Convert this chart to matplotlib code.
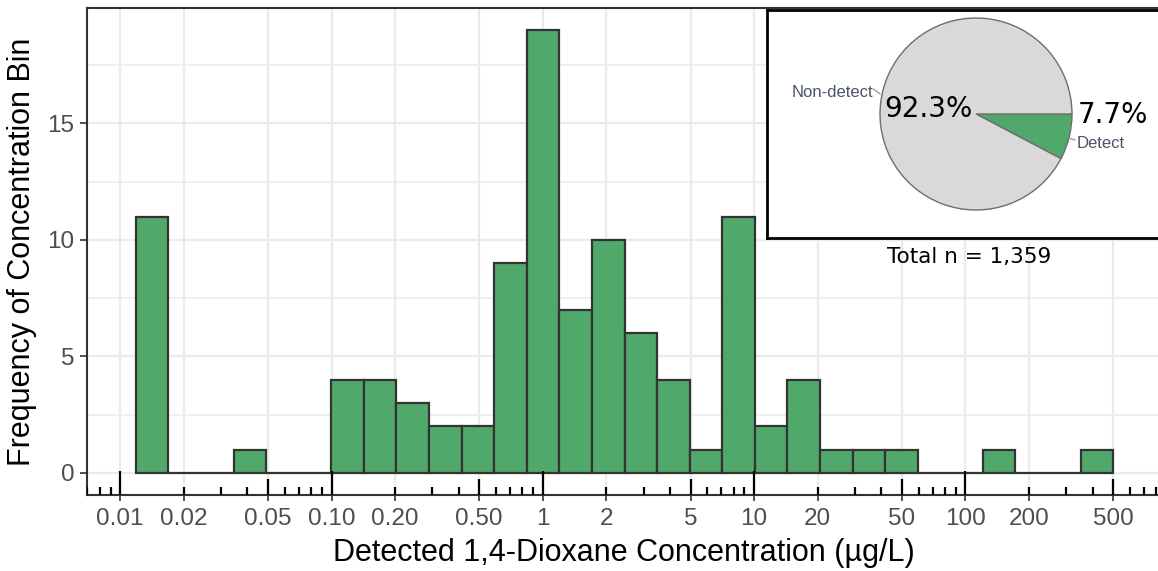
import numpy as np
import matplotlib
matplotlib.use('Agg')
import matplotlib.pyplot as plt
from matplotlib.ticker import FixedLocator, FixedFormatter, NullLocator

# Data
# counts of detected samples in each equal-width bin on the log10 scale
counts = [11, 0, 0, 1, 0, 0, 4, 4, 3, 2, 2, 9, 19, 7, 10, 6, 4, 1, 11, 2,
          4, 1, 1, 1, 0, 0, 1, 0, 0, 1]
log_lo, log_hi = -1.926, 2.699   # outer bin edges, log10(ug/L)

breaks = [0.01, 0.02, 0.05, 0.1, 0.2, 0.5, 1, 2, 5, 10, 20, 50, 100, 200, 500]
break_labels = ['0.01', '0.02', '0.05', '0.10', '0.20', '0.50', '1', '2', '5',
                '10', '20', '50', '100', '200', '500']
y_breaks = [0, 5, 10, 15]
y_minor = [2.5, 7.5, 12.5, 17.5]

pie_labels = ['Detect', 'Non-detect']
pie_pct = [7.7, 92.3]
total_n = 1359

green = '#50A86A'
grey_pie = '#D9D9D9'
W, H = 1158, 571

plt.rcParams['font.family'] = ['Liberation Sans', 'DejaVu Sans']

fig = plt.figure(figsize=(W / 100, H / 100), dpi=100)
ax_l, ax_r, ax_t, ax_b = 87, 1162, 8, 495
ax = fig.add_axes([ax_l / W, (H - ax_b) / H, (ax_r - ax_l) / W, (ax_b - ax_t) / H])

# histogram bars
edges = 10 ** np.linspace(log_lo, log_hi, len(counts) + 1)
ax.bar(edges[:-1], counts, width=np.diff(edges), align='edge', color=green,
       edgecolor='#333333', linewidth=1.6, zorder=3)

ax.set_xscale('log')
span = log_hi - log_lo
ax.set_ylim(-0.05 * max(counts), 1.05 * max(counts))

# axes ticks / grid
ax.xaxis.set_major_locator(FixedLocator(breaks))
ax.xaxis.set_major_formatter(FixedFormatter(break_labels))
ax.xaxis.set_minor_locator(NullLocator())
ax.yaxis.set_major_locator(FixedLocator(y_breaks))
ax.yaxis.set_minor_locator(FixedLocator(y_minor))
ax.tick_params(axis='x', which='major', direction='out', length=4.5, width=1.2,
               color='#333333', labelsize=17.5, labelcolor='#4D4D4D', pad=5)
ax.tick_params(axis='y', which='major', direction='out', length=5, width=1.2,
               color='#333333', labelsize=17.5, labelcolor='#4D4D4D', pad=4)
ax.tick_params(which='minor', length=0)
ax.set_axisbelow(True)
ax.grid(which='major', color='#EBEBEB', linewidth=1.6)
ax.grid(which='minor', axis='y', color='#EBEBEB', linewidth=1.1)
for s in ax.spines.values():
    s.set_color('#333333')
    s.set_linewidth(1.5)

# log ticks along the bottom of the panel
ax_h = ax_b - ax_t
trans = ax.get_xaxis_transform()
for k in range(-3, 4):
    for m in range(1, 10):
        v = m * 10.0 ** k
        L = 24 if m == 1 else (16 if m == 5 else 8)
        ax.vlines(v, 0, L / ax_h, transform=trans, color='black', linewidth=1.6,
                  zorder=4)
ax.set_xlim(10 ** (log_lo - 0.05 * span), 10 ** (log_hi + 0.05 * span))

fig.text(624 / W, 1 - 553 / H, 'Detected 1,4-Dioxane Concentration (µg/L)',
         ha='center', va='center', fontsize=22, color='black')
fig.text(22 / W, 1 - 252 / H, 'Frequency of Concentration Bin', rotation=90,
         ha='center', va='center', fontsize=22, color='black')

# inset box with pie
box = fig.add_axes([767 / W, (H - 238) / H, 420 / W, (238 - 10) / H])
box.set_xticks([])
box.set_yticks([])
box.set_facecolor('white')
for s in box.spines.values():
    s.set_color('black')
    s.set_linewidth(2)

cx, cy, R = 976, 114, 96
pr = 1.25 * R
ax_pie = fig.add_axes([(cx - pr) / W, (H - cy - pr) / H, 2 * pr / W, 2 * pr / H])
ax_pie.pie(pie_pct, colors=[green, grey_pie], startangle=0, counterclock=False,
           wedgeprops=dict(edgecolor='#6E6E6E', linewidth=1))
ax_pie.set_xlim(-1.25, 1.25)
ax_pie.set_ylim(-1.25, 1.25)
ax_pie.axis('off')

lab_col = '#4A5468'
ax_pie.text(-1.075, 0.177, pie_labels[1], ha='right', va='baseline',
            fontsize=12, color=lab_col)
ax_pie.plot([-1.07, -1.0], [0.26, 0.21], color='#8A8A8A', linewidth=0.8)
ax_pie.text(-0.96, -0.031, '%.1f%%' % pie_pct[1], ha='left', va='baseline',
            fontsize=20, family='DejaVu Sans', color='black')
ax_pie.text(1.06, -0.094, '%.1f%%' % pie_pct[0], ha='left', va='baseline',
            fontsize=20, family='DejaVu Sans', color='black')
ax_pie.text(1.045, -0.354, pie_labels[0], ha='left', va='baseline',
            fontsize=12, color=lab_col)
ax_pie.plot([0.96, 1.03], [-0.25, -0.27], color='#8A8A8A', linewidth=0.8)

fig.text(969 / W, 1 - 263 / H, 'Total n = {:,}'.format(total_n), ha='center',
         va='baseline', fontsize=15.5, family='DejaVu Sans', color='black')

fig.savefig('out.png', dpi=100)
